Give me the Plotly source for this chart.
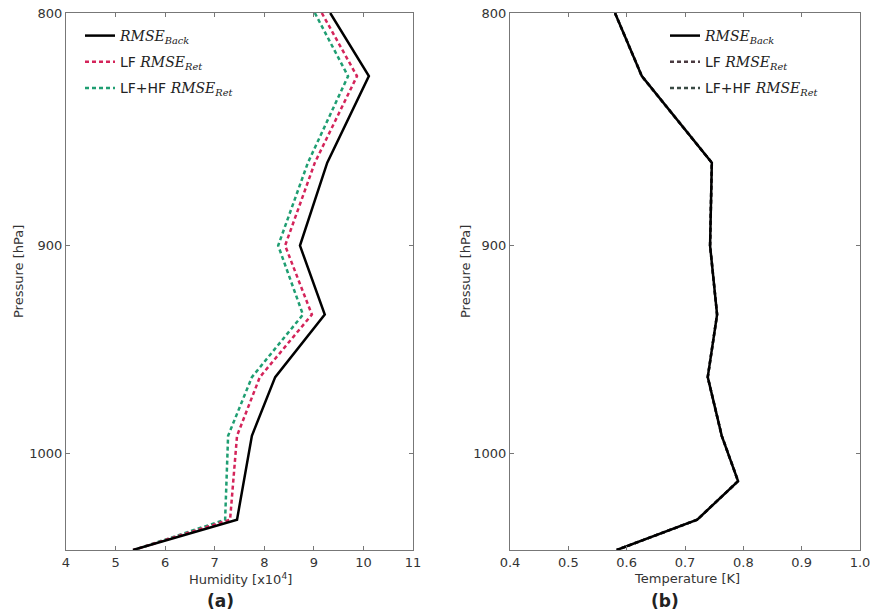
import numpy as np
import plotly.graph_objects as go
from plotly.subplots import make_subplots

pressure = [800, 826, 863, 900, 932, 962, 991, 1014, 1034, 1050]

hum_back = [9.33, 10.11, 9.27, 8.72, 9.22, 8.22, 7.75, 7.59, 7.45, 5.35]
hum_lf = [9.16, 9.87, 9.02, 8.42, 8.96, 7.91, 7.45, 7.37, 7.31, 5.36]
hum_lfhf = [9.02, 9.69, 8.88, 8.28, 8.78, 7.75, 7.27, 7.23, 7.21, 5.37]

temp_back = [0.580, 0.626, 0.746, 0.743, 0.755, 0.739, 0.763, 0.791, 0.721, 0.583]
temp_lf = [0.580, 0.626, 0.746, 0.743, 0.755, 0.739, 0.763, 0.791, 0.721, 0.583]
temp_lfhf = [0.580, 0.626, 0.746, 0.743, 0.755, 0.739, 0.763, 0.791, 0.721, 0.583]

hum_ticks = [4, 5, 6, 7, 8, 9, 10, 11]
temp_ticks = [0.4, 0.5, 0.6, 0.7, 0.8, 0.9, 1.0]
temp_ticktext = ["0.4", "0.5", "0.6", "0.7", "0.8", "0.9", "1.0"]
p_ticks = [800, 900, 1000]

SERIF = "DejaVu Serif"
def rmse(sub):
    return (f'<span style="font-family:{SERIF};font-style:italic">RMSE</span>'
            f'<sub><span style="font-family:{SERIF};font-style:italic">{sub}</span></sub>')

names = [rmse("Back"), "LF " + rmse("Ret"), "LF+HF " + rmse("Ret")]

RED = "#d4245a"
GREEN = "#1f9e72"
DASH = "4px,3px"

fig = make_subplots(rows=1, cols=2, horizontal_spacing=0.12)

# left panel
fig.add_trace(go.Scatter(x=hum_lfhf, y=pressure, mode="lines", name=names[2], legendgroup="a3",
                         line=dict(color=GREEN, width=2.5, dash=DASH), legend="legend", legendrank=3), 1, 1)
fig.add_trace(go.Scatter(x=hum_lf, y=pressure, mode="lines", name=names[1], legendgroup="a2",
                         line=dict(color=RED, width=2.5, dash=DASH), legend="legend", legendrank=2), 1, 1)
fig.add_trace(go.Scatter(x=hum_back, y=pressure, mode="lines", name=names[0], legendgroup="a1",
                         line=dict(color="black", width=2.5), legend="legend", legendrank=1), 1, 1)

# right panel
fig.add_trace(go.Scatter(x=temp_lfhf, y=pressure, mode="lines", name=names[2], legendgroup="b3",
                         line=dict(color="#3a4a44", width=2.5, dash=DASH), legend="legend2", legendrank=3), 1, 2)
fig.add_trace(go.Scatter(x=temp_lf, y=pressure, mode="lines", name=names[1], legendgroup="b2",
                         line=dict(color="#4a3a40", width=2.5, dash=DASH), legend="legend2", legendrank=2), 1, 2)
fig.add_trace(go.Scatter(x=temp_back, y=pressure, mode="lines", name=names[0], legendgroup="b1",
                         line=dict(color="black", width=2.5), legend="legend2", legendrank=1), 1, 2)

axis_common = dict(showline=True, mirror="ticks", linecolor="#777", linewidth=1.2,
                   ticks="inside", ticklen=4, tickcolor="#777", showgrid=False, zeroline=False,
                   automargin=False, ticklabeloverflow="allow",
                   tickfont=dict(size=13, color="#333"))

fig.update_xaxes(**axis_common)
fig.update_yaxes(**axis_common)

FIG_W, FIG_H = 870, 616
PLOT_L, PLOT_R, PLOT_T, PLOT_B = 66, 10, 13, 66
plot_w = FIG_W - PLOT_L - PLOT_R
plot_h = FIG_H - PLOT_T - PLOT_B

def px_x(x):
    return (x - PLOT_L) / plot_w

def px_y(y):
    return 1 - (y - PLOT_T) / plot_h

fig.update_xaxes(range=[4, 11], tickvals=hum_ticks, domain=[0, px_x(413)], row=1, col=1)
fig.update_xaxes(range=[0.4, 1.0], tickvals=temp_ticks, ticktext=temp_ticktext,
                 domain=[px_x(510), px_x(860)], row=1, col=2)
for c in (1, 2):
    fig.update_yaxes(type="log", range=[np.log10(1050), np.log10(800)], tickvals=p_ticks,
                     ticktext=[str(v) for v in p_ticks], domain=[0, 1], row=1, col=c)

legend_common = dict(bgcolor="rgba(0,0,0,0)", font=dict(size=14, color="#222", family="DejaVu Sans"),
                     xanchor="left", yanchor="top", tracegroupgap=5)

title_font = dict(size=13, color="#333")
label_font = dict(size=17, color="#222")
annotations = [
    dict(text="Pressure [hPa]", x=px_x(18), y=px_y(272), textangle=-90, font=title_font),
    dict(text="Pressure [hPa]", x=px_x(465), y=px_y(272), textangle=-90, font=title_font),
    dict(text="Humidity [x10<sup>4</sup>]", x=px_x(240), y=px_y(579), font=title_font),
    dict(text="Temperature [K]", x=px_x(687), y=px_y(578), font=title_font),
    dict(text="<b>(a)</b>", x=px_x(220), y=px_y(601), font=label_font),
    dict(text="<b>(b)</b>", x=px_x(665), y=px_y(601), font=label_font),
]
for a in annotations:
    a.update(xref="paper", yref="paper", showarrow=False, xanchor="center", yanchor="middle")

fig.update_layout(
    width=FIG_W, height=FIG_H,
    margin=dict(l=PLOT_L, r=PLOT_R, t=PLOT_T, b=PLOT_B, autoexpand=False),
    paper_bgcolor="white", plot_bgcolor="white",
    font=dict(family="DejaVu Sans", color="#333"),
    legend=dict(x=px_x(80), y=px_y(20), **legend_common),
    legend2=dict(x=px_x(665), y=px_y(20), **legend_common),
    annotations=annotations,
)

# remove the browser's default 8px page margin so the figure fills the window exactly
fig.write_html("out.html", config={"displayModeBar": False},
               post_script="document.body.style.margin='0';document.body.style.overflow='hidden';")
